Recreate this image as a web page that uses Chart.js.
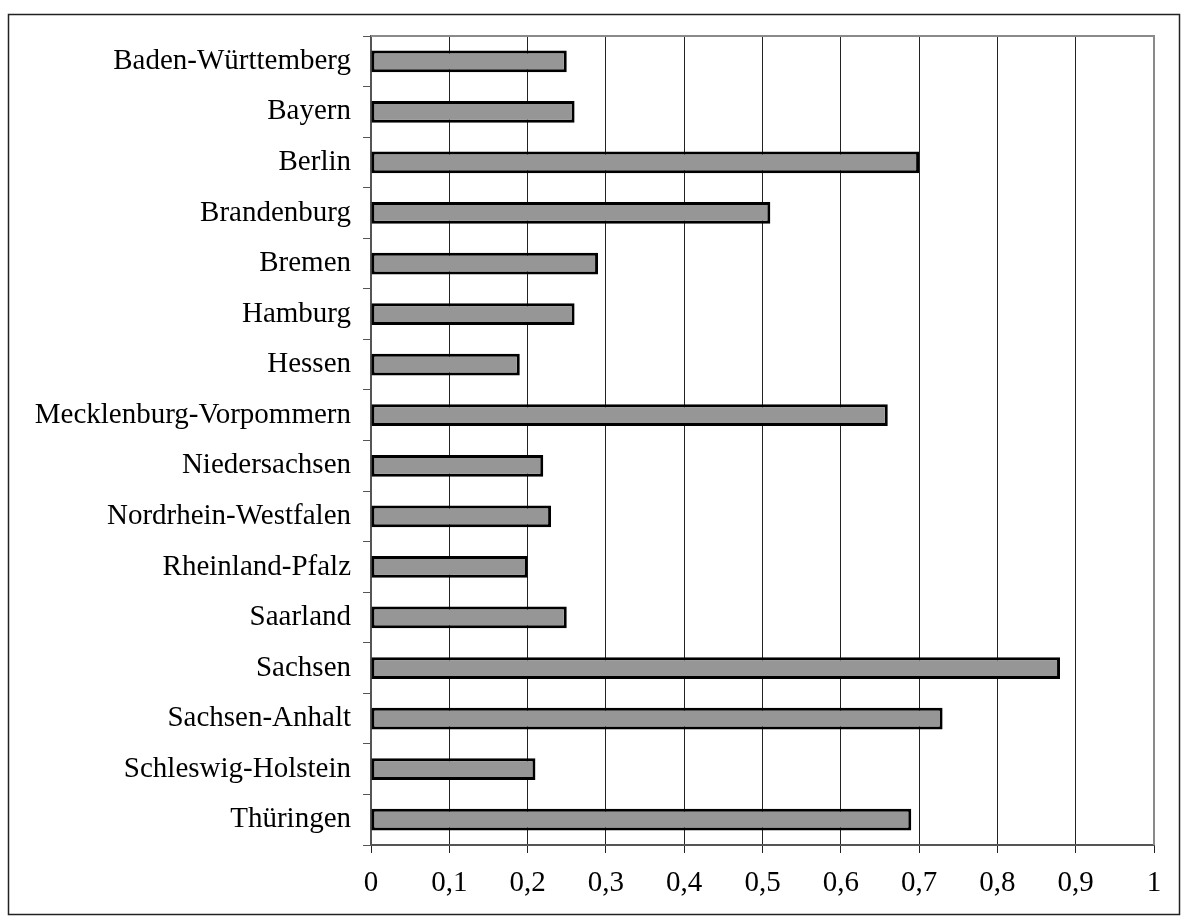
<!DOCTYPE html>
<html>
<head>
<meta charset="utf-8">
<script src="https://cdn.jsdelivr.net/npm/chart.js@4"></script>
<style>
  html, body { margin: 0; padding: 0; background: #fff; }
  canvas { display: block; }
</style>
</head>
<body>
<canvas id="bars" width="1188" height="923"></canvas>
<script>
var laender = [
    'Baden-Württemberg',
    'Bayern',
    'Berlin',
    'Brandenburg',
    'Bremen',
    'Hamburg',
    'Hessen',
    'Mecklenburg-Vorpommern',
    'Niedersachsen',
    'Nordrhein-Westfalen',
    'Rheinland-Pfalz',
    'Saarland',
    'Sachsen',
    'Sachsen-Anhalt',
    'Schleswig-Holstein',
    'Thüringen'
];
var werte = [0.25, 0.26, 0.70, 0.51, 0.29, 0.26, 0.19, 0.66, 0.22, 0.23, 0.20, 0.25, 0.88, 0.73, 0.21, 0.69];
var xMin = 0, xMax = 1, xStep = 0.1;

// outer frame + gray top/right plot border
var rahmen = {
    id: 'rahmen',
    afterDraw: function (chart) {
        var ctx = chart.ctx, a = chart.chartArea;
        ctx.save();
        ctx.strokeStyle = '#222';
        ctx.lineWidth = 1.5;
        ctx.strokeRect(8.5, 14.5, 1171, 900);
        ctx.strokeStyle = '#8a8a8a';
        ctx.lineWidth = 2;
        ctx.beginPath();
        ctx.moveTo(a.left, a.top);
        ctx.lineTo(a.right, a.top);
        ctx.lineTo(a.right, a.bottom);
        ctx.stroke();
        ctx.restore();
    }
};

new Chart(document.getElementById('bars'), {
    type: 'bar',
    data: {
        labels: laender,
        datasets: [{
            data: werte,
            backgroundColor: '#969696',
            borderColor: '#000',
            borderWidth: 3,
            borderSkipped: false,
            categoryPercentage: 0.43,
            barPercentage: 1
        }]
    },
    options: {
        indexAxis: 'y',
        responsive: false,
        animation: false,
        layout: { padding: { top: 36, right: 34, left: 0, bottom: 0 } },
        plugins: { legend: { display: false }, tooltip: { enabled: false } },
        scales: {
            x: {
                min: xMin,
                max: xMax,
                afterFit: function (s) { s.height = 78; },
                border: { color: '#555', width: 2 },
                grid: { color: '#222', lineWidth: 1, tickLength: 8, drawTicks: true },
                ticks: {
                    stepSize: xStep,
                    color: '#000',
                    padding: 13,
                    font: { family: 'Liberation Serif', size: 29 },
                    callback: function (v) { return String(Math.round(v * 10) / 10).replace('.', ','); }
                }
            },
            y: {
                afterFit: function (s) { s.width = 371; },
                border: { color: '#555', width: 2 },
                grid: { offset: true, drawOnChartArea: false, color: '#555', tickLength: 8 },
                ticks: {
                    color: '#000',
                    padding: 12,
                    font: { family: 'Liberation Serif', size: 29 }
                }
            }
        }
    },
    plugins: [rahmen]
});
</script>
</body>
</html>
